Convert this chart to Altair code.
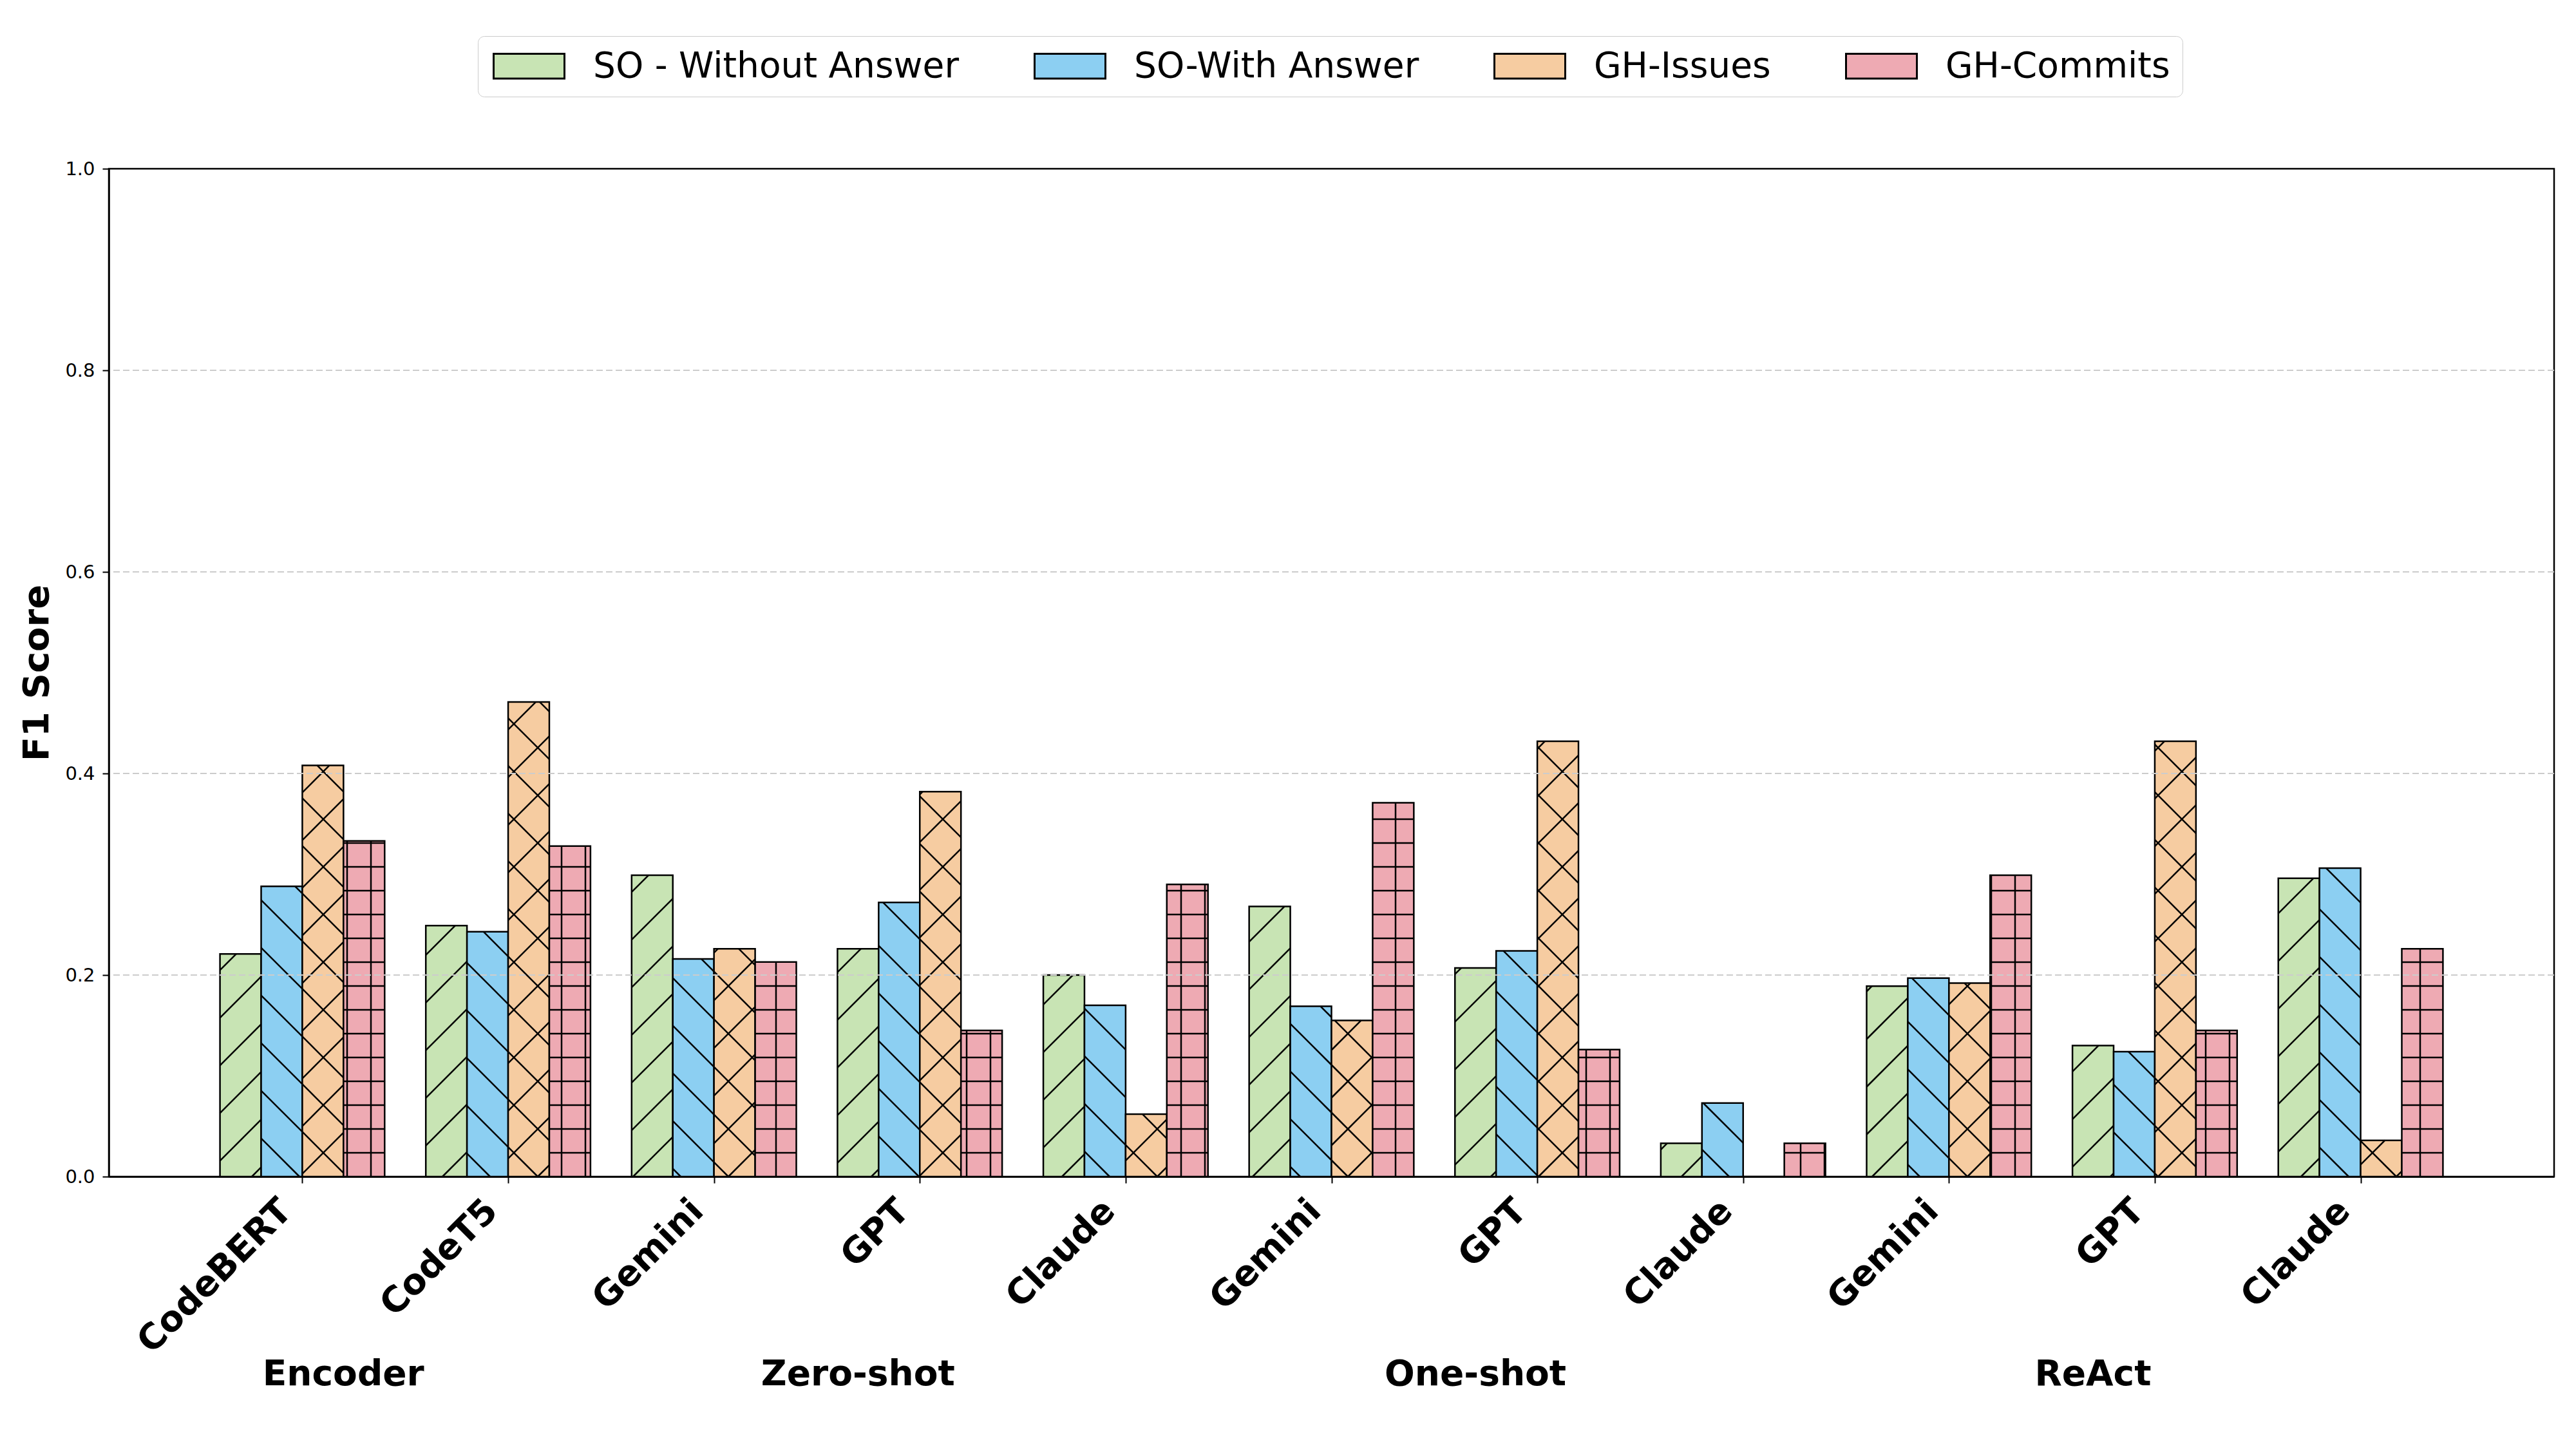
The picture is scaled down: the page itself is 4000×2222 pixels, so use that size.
import altair as alt
import pandas as pd
import numpy as np

# ---------------- data ----------------
models = ["CodeBERT", "CodeT5", "Gemini", "GPT", "Claude", "Gemini", "GPT",
          "Claude", "Gemini", "GPT", "Claude"]
groups = ["Encoder", "Encoder", "Zero-shot", "Zero-shot", "Zero-shot",
          "One-shot", "One-shot", "One-shot", "ReAct", "ReAct", "ReAct"]
series = ["SO - Without Answer", "SO-With Answer", "GH-Issues", "GH-Commits"]
so_without = [0.221, 0.249, 0.299, 0.226, 0.200, 0.268, 0.207, 0.033, 0.189, 0.130, 0.296]
so_with = [0.288, 0.243, 0.216, 0.272, 0.170, 0.169, 0.224, 0.073, 0.197, 0.124, 0.306]
gh_issues = [0.408, 0.471, 0.226, 0.382, 0.062, 0.155, 0.432, 0.000, 0.192, 0.432, 0.036]
gh_commits = [0.333, 0.328, 0.213, 0.145, 0.290, 0.371, 0.126, 0.033, 0.299, 0.145, 0.226]
y_ticks = [0.0, 0.2, 0.4, 0.6, 0.8, 1.0]

# ---------------- style ----------------
colors = ["#c8e4b4", "#8ccff2", "#f6cca1", "#eeaab3"]
hatches = ["/", "\\", "x", "+"]
FONT = "DejaVu Sans"
W, H = 3797, 1565
XMIN, XMAX = -0.94, 10.94
SX = W / (XMAX - XMIN)
SY = H / 1.0
BAR_W = 0.2
DIAG = 74.0   # px spacing of diagonal hatch lines
GRIDS = 37.0  # px spacing of '+' hatch lines

values = [so_without, so_with, gh_issues, gh_commits]
rows = []
for j, s in enumerate(series):
    for i, m in enumerate(models):
        x0 = i - 0.4 + BAR_W * j
        rows.append(dict(series=s, model=m, x0=x0, x1=x0 + BAR_W,
                         v=values[j][i], hatch=hatches[j], order=j))
bars = pd.DataFrame(rows)


def hatch_segments(x0, x1, v, h):
    Xa = (x0 - XMIN) * SX
    Xb = (x1 - XMIN) * SX
    Y1 = v * SY
    segs = []
    if Y1 <= 0:
        return segs
    if h in ("/", "x"):  # Y = X + c
        for k in range(int(np.floor(-Xb / DIAG)) - 1, int(np.ceil((Y1 - Xa) / DIAG)) + 2):
            c = k * DIAG
            lo, hi = max(Xa, -c), min(Xb, Y1 - c)
            if hi - lo > 0.5:
                segs.append((lo, lo + c, hi, hi + c))
    if h in ("\\", "x"):  # Y = -X + c
        for k in range(int(np.floor(Xa / DIAG)) - 1, int(np.ceil((Xb + Y1) / DIAG)) + 2):
            c = k * DIAG
            lo, hi = max(Xa, c - Y1), min(Xb, c)
            if hi - lo > 0.5:
                segs.append((lo, c - lo, hi, c - hi))
    if h == "+":
        k = 1
        while k * GRIDS < Y1 - 0.5:
            segs.append((Xa, k * GRIDS, Xb, k * GRIDS))
            k += 1
        for k in range(int(np.ceil(Xa / GRIDS)), int(np.floor(Xb / GRIDS)) + 1):
            X = k * GRIDS
            if Xa + 0.5 < X < Xb - 0.5:
                segs.append((X, 0.0, X, Y1))
    return segs


hrows = []
for r in bars.itertuples():
    for (a, b, c, d) in hatch_segments(r.x0, r.x1, r.v, r.hatch):
        hrows.append(dict(x0=a / SX + XMIN, y0=b / SY, x1=c / SX + XMIN, y1=d / SY))
hatch_df = pd.DataFrame(hrows)

grid_df = pd.DataFrame({"g": [t for t in y_ticks if 0 < t < 1]})

group_names = []
for g in groups:
    if g not in group_names:
        group_names.append(g)
group_df = pd.DataFrame({
    "group": group_names,
    "gx": [float(np.mean([i for i, gg in enumerate(groups) if gg == g])) for g in group_names],
})

# ---------------- encodings ----------------
label_expr = "[" + ",".join("'" + m + "'" for m in models) + "][datum.value]"
x_scale = alt.Scale(domain=[XMIN, XMAX], nice=False, zero=False)
y_scale = alt.Scale(domain=[0, 1], nice=False)
x_axis = alt.Axis(values=list(range(len(models))), labelExpr=label_expr, title=None,
                  grid=False, labelAngle=-45, labelAlign="right",
                  labelBaseline="alphabetic", labelFontSize=55, labelFontWeight="bold",
                  labelPadding=46, labelOffset=-14, tickSize=10, tickWidth=2,
                  tickColor="black", domainColor="black", domainWidth=2.5,
                  labelLimit=1000, labelOverlap=False, labelFlush=False,
                  labelColor="black", labelFont=FONT, zindex=1)
y_axis = alt.Axis(values=y_ticks, format=".1f", title="F1 Score", titleFontSize=56,
                  titleFontWeight="bold", titlePadding=14, titleFont=FONT,
                  titleColor="black", labelFontSize=29, labelFont=FONT,
                  labelColor="black", tickSize=10, tickWidth=2, tickColor="black",
                  labelPadding=12, grid=False, domainColor="black", domainWidth=2.5,
                  zindex=1)

legend = alt.Legend(orient="none", legendX=573, legendY=-206, direction="horizontal",
                    columns=4, title=None,
                    symbolType="M-2.5,-0.875L2.5,-0.875L2.5,0.875L-2.5,0.875Z",
                    symbolSize=1936, symbolOffset=33,
                    symbolStrokeColor="black", symbolStrokeWidth=3,
                    labelFontSize=55, labelFont=FONT, labelColor="black",
                    labelOffset=72, columnPadding=110, padding=19,
                    strokeColor="#cccccc", cornerRadius=10, fillColor="white",
                    labelLimit=1000)

bar_layer = alt.Chart(bars).mark_rect(stroke="black", strokeWidth=2.5).encode(
    x=alt.X("x0:Q", scale=x_scale, axis=x_axis, title=None),
    x2="x1:Q",
    y=alt.Y("v:Q", scale=y_scale, axis=y_axis, title="F1 Score"),
    y2=alt.datum(0),
    fill=alt.Fill("series:N", scale=alt.Scale(domain=series, range=colors), legend=legend),
    order=alt.Order("order:Q"),
)

hatch_layer = alt.Chart(hatch_df).mark_rule(color="black", strokeWidth=2.5).encode(
    x=alt.X("x0:Q", scale=x_scale, axis=x_axis, title=None),
    x2="x1:Q",
    y=alt.Y("y0:Q", scale=y_scale, axis=y_axis, title="F1 Score"),
    y2="y1:Q",
)

grid_layer = alt.Chart(grid_df).mark_rule(color="#cccccc", strokeDash=[10, 5],
                                          strokeWidth=2).encode(
    y=alt.Y("g:Q", scale=y_scale, axis=y_axis, title="F1 Score"),
)

group_layer = alt.Chart(group_df).mark_text(fontSize=55, fontWeight="bold", font=FONT,
                                            baseline="alphabetic", align="center",
                                            dx=-96, color="black").encode(
    x=alt.X("gx:Q", scale=x_scale, axis=x_axis, title=None),
    y=alt.value(H + 324),
    text="group:N",
)

chart = alt.layer(bar_layer, hatch_layer, grid_layer, group_layer).properties(
    width=W, height=H,
    autosize=alt.AutoSizeParams(type="none"),
    padding={"left": 161, "top": 254, "right": 26, "bottom": 387},
).configure(font=FONT).configure_view(stroke="black", strokeWidth=2.5)

chart.save("out.html", embed_options={"renderer": "svg", "actions": False})
